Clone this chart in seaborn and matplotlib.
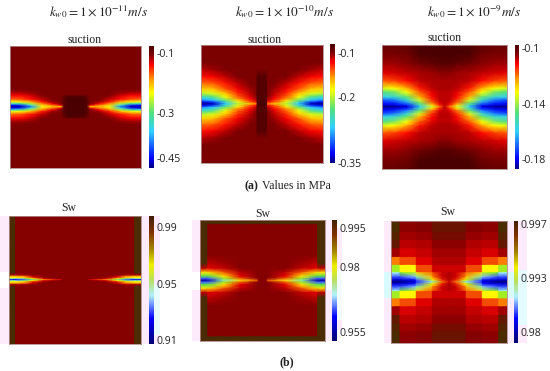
import matplotlib
matplotlib.use('Agg')
import matplotlib.pyplot as plt
import numpy as np
import seaborn as sns
from matplotlib.cm import ScalarMappable
from matplotlib.colors import LinearSegmentedColormap, Normalize
from matplotlib.patches import Rectangle

# Every table holds the left half of a panel, from the crack line outwards.
# Columns are x fractions of the panel width, rows are distance from the crack
# as a fraction of the half height.

# suction, kw0 = 1e-11
s1_x = [0, .08, .16, .24, .32, .39, .41, .44, .5]
s1_y = [0, .02, .05, .08, .12, .17, .2, .24, .29, 1]
s1_vals = [
    [-.472, -.472, -.393, -.235, -.196, -.215, -.077, -.077, -.077],
    [-.452, -.433, -.344, -.215, -.186, -.136, -.087, -.077, -.077],
    [-.344, -.314, -.265, -.186, -.136, -.107, -.087, -.077, -.077],
    [-.235, -.225, -.196, -.146, -.116, -.107, -.087, -.077, -.077],
    [-.176, -.166, -.146, -.126, -.107, -.107, -.087, -.077, -.077],
    [-.146, -.146, -.131, -.111, -.107, -.107, -.097, -.082, -.082],
    [-.131, -.131, -.121, -.107, -.107, -.107, -.107, -.107, -.107],
    [-.116, -.116, -.111, -.107, -.107, -.107, -.107, -.107, -.107],
    [-.107, -.107, -.107, -.107, -.107, -.107, -.107, -.107, -.107],
    [-.107, -.107, -.107, -.107, -.107, -.107, -.107, -.107, -.107],
]

# suction, kw0 = 1e-10
s2_x = [0, .1, .2, .3, .4, .455, .46, .5]
s2_y = [0, .03, .06, .09, .13, .18, .25, .35, .46, .58, .7, 1]
s2_vals = [
    [-.35, -.34, -.27, -.2, -.165, -.15, -.08, -.08],
    [-.33, -.31, -.25, -.19, -.14, -.12, -.08, -.08],
    [-.29, -.27, -.22, -.17, -.13, -.11, -.085, -.085],
    [-.27, -.25, -.2, -.15, -.12, -.105, -.085, -.085],
    [-.24, -.22, -.18, -.14, -.115, -.1, -.085, -.085],
    [-.2, -.19, -.165, -.13, -.11, -.1, -.085, -.085],
    [-.17, -.165, -.14, -.12, -.105, -.1, -.085, -.085],
    [-.145, -.14, -.125, -.11, -.1, -.1, -.085, -.085],
    [-.125, -.12, -.11, -.1, -.1, -.1, -.085, -.085],
    [-.11, -.105, -.1, -.1, -.1, -.1, -.1, -.1],
    [-.1, -.1, -.1, -.1, -.1, -.1, -.1, -.1],
    [-.1, -.1, -.1, -.1, -.1, -.1, -.1, -.1],
]

# suction, kw0 = 1e-9
s3_x = [0, .1, .2, .3, .4, .46, .5]
s3_y = [0, .02, .06, .11, .16, .24, .3, .42, .55, .7, .85, 1]
s3_vals = [
    [-.187, -.186, -.182, -.16, -.135, -.12, -.108],
    [-.183, -.182, -.178, -.155, -.13, -.115, -.108],
    [-.178, -.176, -.168, -.145, -.12, -.11, -.108],
    [-.172, -.168, -.155, -.135, -.115, -.108, -.108],
    [-.158, -.155, -.145, -.125, -.112, -.108, -.108],
    [-.147, -.143, -.132, -.118, -.11, -.108, -.108],
    [-.135, -.132, -.124, -.113, -.108, -.107, -.107],
    [-.118, -.116, -.112, -.108, -.107, -.107, -.107],
    [-.11, -.109, -.108, -.107, -.106, -.105, -.105],
    [-.106, -.106, -.105, -.103, -.101, -.1, -.1],
    [-.104, -.104, -.103, -.099, -.098, -.098, -.098],
    [-.102, -.102, -.101, -.098, -.098, -.098, -.098],
]

# Sw, kw0 = 1e-11
w1_x = [0, .047, .05, .12, .18, .26, .33, .395, .41, .5]
w1_y = [0, .015, .03, .05, .075, .11, 1]
w1_vals = [
    [.915, .915, .915, .925, .945, .969, .975, .98, .989, .989],
    [.94, .94, .93, .945, .96, .98, .985, .989, .989, .989],
    [.96, .96, .96, .965, .975, .985, .989, .989, .989, .989],
    [.965, .965, .965, .97, .98, .989, .989, .989, .989, .989],
    [.985, .985, .985, .985, .989, .989, .989, .989, .989, .989],
    [.998, .998, .989, .989, .989, .989, .989, .989, .989, .989],
    [.998, .998, .989, .989, .989, .989, .989, .989, .989, .989],
]

# Sw, kw0 = 1e-10
w2_x = [0, .058, .062, .19, .32, .46, .47, .5]
w2_y = [0, .03, .07, .13, .2, .28, .42, .92, .935, 1]
w2_vals = [
    [.9525, .9525, .953, .968, .98, .985, .9934, .9934],
    [.96, .96, .96, .975, .985, .993, .9934, .9934],
    [.972, .972, .972, .98, .988, .9934, .9934, .9934],
    [.98, .98, .98, .985, .99, .9934, .9934, .9934],
    [.99, .99, .988, .99, .9934, .9934, .9934, .9934],
    [.998, .998, .99, .992, .9934, .9934, .9934, .9934],
    [.998, .998, .9934, .9934, .9934, .9934, .9934, .9934],
    [.998, .998, .9934, .9934, .9934, .9934, .9934, .9934],
    [.998, .998, .998, .998, .998, .998, .998, .998],
    [.998, .998, .998, .998, .998, .998, .998, .998],
]

# Sw, kw0 = 1e-9, paired rows and columns keep the blocky cells of the original
w3_x = [0, .07, .08, .21, .22, .35, .36, .44, .5]
w3_y = [0, .03, .08, .15, .16, .27, .28, .4, .41, .54, .55, .68, .69, .81, .82, 1]
w3_vals = [
    [.9882, .9882, .9882, .9888, .9895, .9908, .9915, .9945, .9955],
    [.9888, .9888, .9888, .9892, .9898, .993, .9935, .995, .9958],
    [.9897, .9897, .9897, .9905, .9915, .994, .9945, .9955, .9958],
    [.991, .991, .9925, .993, .9938, .9946, .9948, .9955, .9958],
    [.9928, .9928, .9935, .9935, .9948, .9948, .9955, .9955, .9955],
    [.9928, .9928, .9935, .9935, .9948, .9948, .9955, .9955, .9955],
    [.9945, .9945, .9948, .9948, .9953, .9953, .9958, .9958, .9958],
    [.9945, .9945, .9948, .9948, .9953, .9953, .9958, .9958, .9958],
    [.996, .996, .9954, .9954, .9956, .9956, .996, .996, .996],
    [.996, .996, .9954, .9954, .9956, .9956, .996, .996, .996],
    [.9968, .9968, .9957, .9957, .9958, .9958, .9962, .9962, .9962],
    [.9968, .9968, .9957, .9957, .9958, .9958, .9962, .9962, .9962],
    [.997, .997, .996, .996, .9961, .9961, .9965, .9965, .9965],
    [.997, .997, .996, .996, .9961, .9961, .9965, .9965, .9965],
    [.9972, .9972, .9962, .9962, .9963, .9963, .9967, .9967, .9967],
    [.9972, .9972, .9962, .9962, .9963, .9963, .9967, .9967, .9967],
]

suction_ticks = [[-.1, -.3, -.45], [-.1, -.2, -.35], [-.1, -.14, -.18]]
suction_labels = [['-0.1', '-0.3', '-0.45'], ['-0.1', '-0.2', '-0.35'], ['-0.1', '-0.14', '-0.18']]
sw_ticks = [[.99, .95, .91], [.995, .98, .955], [.997, .993, .989]]
sw_labels = [['0.99', '0.95', '0.91'], ['0.995', '0.98', '0.955'], ['0.997', '0.993', '0.98']]
suction_ranges = [(-.482, -.077), (-.35, -.08), (-.187, -.098)]
sw_ranges = [(.907, .998), (.9515, .998), (.9882, .9972)]
kw_titles = [r'$k_{w0}=1\times10^{-11}m/s$', r'$k_{w0}=1\times10^{-10}m/s$', r'$k_{w0}=1\times10^{-9}m/s$']

sns.set_theme(style='white')
plt.rcParams['font.family'] = ['Open Sans', 'DejaVu Sans']
plt.rcParams['mathtext.fontset'] = 'stix'

W, H = 550, 371
suction_cmap = LinearSegmentedColormap.from_list('suction', [
    (0, '#00007f'), (.08, '#0000ff'), (.3, '#30d0ff'), (.45, '#50e080'), (.62, '#ffff00'),
    (.72, '#ffa000'), (.85, '#ff0000'), (.93, '#7a0000'), (1, '#4a0000')])
sw_cmap = LinearSegmentedColormap.from_list('sw', [
    (0, '#00007f'), (.1, '#0000ff'), (.3, '#a8f0ff'), (.45, '#50e040'), (.58, '#ffff00'),
    (.68, '#ffa000'), (.78, '#e80000'), (.9, '#850000'), (1, '#4a2c00')])
sw_bar_cmap = LinearSegmentedColormap.from_list('swbar', [
    (0, '#000070'), (.2, '#0000ff'), (.38, '#b0f0ff'), (.5, '#b8e060'), (.62, '#f0f000'),
    (.75, '#a08000'), (.88, '#803000'), (1, '#402000')])

fig = plt.figure(figsize=(W / 100, H / 100), dpi=100)


def px_rect(x0, y0, x1, y1):
    return [x0 / W, 1 - y1 / H, (x1 - x0) / W, (y1 - y0) / H]


def add_panel(vals, xs, ys, vrange, box, cbox, ticks, labels, cmap, bar_cmap):
    # mirror the half table around the crack line and the panel centre
    half = np.array(vals)
    full = np.hstack([half, half[:, -2::-1]])
    full = np.vstack([full[::-1], full[1:]])
    x_pos = np.array(list(xs) + [1 - v for v in xs[-2::-1]])
    y_pos = np.array([-v for v in ys[::-1]] + list(ys[1:]))
    x_idx = np.arange(len(x_pos))
    y_idx = np.arange(len(y_pos))

    ax = fig.add_axes(px_rect(*box))
    sns.heatmap(full, ax=ax, cmap=cmap, vmin=vrange[0], vmax=vrange[1], cbar=False,
                xticklabels=False, yticklabels=False, shading='gouraud')
    ax.set_xscale('function', functions=(lambda i: np.interp(i, x_idx, x_pos),
                                         lambda p: np.interp(p, x_pos, x_idx)))
    ax.set_yscale('function', functions=(lambda i: np.interp(i, y_idx, y_pos),
                                         lambda p: np.interp(p, y_pos, y_idx)))
    ax.set_xlim(0, len(x_pos) - 1)
    ax.set_ylim(len(y_pos) - 1, 0)
    ax.set_xticks([])
    ax.set_yticks([])
    ax.minorticks_off()
    for s in ax.spines.values():
        s.set_visible(True)
        s.set_color('#b08a8a')
        s.set_linewidth(.6)

    cax = fig.add_axes(px_rect(*cbox))
    cb = fig.colorbar(ScalarMappable(Normalize(*vrange), bar_cmap), cax=cax)
    cb.outline.set_visible(False)
    cb.set_ticks(ticks, labels=labels)
    cax.tick_params(length=0, pad=1.5, labelsize=7.6, colors='#222222')
    cax.minorticks_off()


# pale halos around the lower pictures, kept under the axes
for x0, y0, x1, y1, col in [(0, 216, 160, 344, '#fdeafb'), (192, 220, 332, 341, '#fdeafb'),
                            (337, 228, 342, 330, '#fdeafb'), (384, 221, 527, 343, '#fdeafb'),
                            (0, 272, 10, 288, '#ffffff'), (192, 272, 201, 290, '#ffffff'),
                            (325, 272, 332, 290, '#ffffff'), (154, 285, 160, 335, '#e8fbff'),
                            (337, 270, 342, 320, '#f4fbff'), (384, 272, 391, 298, '#d8fbff'),
                            (507, 272, 514, 298, '#d8fbff'), (518, 270, 527, 325, '#e4fbff')]:
    fig.add_artist(Rectangle((x0 / W, 1 - y1 / H), (x1 - x0) / W, (y1 - y0) / H,
                             transform=fig.transFigure, facecolor=col, edgecolor='none', zorder=-1))

suction_boxes = [(10, 46, 141, 168), (201, 45, 323, 163), (382, 45, 507, 169)]
suction_cboxes = [(149, 46, 154, 168), (330, 44, 335, 163), (515, 45, 519, 169)]
sw_boxes = [(9, 216, 141, 344), (200, 220, 325, 341), (391, 221, 507, 343)]
sw_cboxes = [(149, 216, 154, 344), (332, 220, 337, 341), (514, 221, 518, 343)]

suction_tables = [(s1_vals, s1_x, s1_y), (s2_vals, s2_x, s2_y), (s3_vals, s3_x, s3_y)]
sw_tables = [(w1_vals, w1_x, w1_y), (w2_vals, w2_x, w2_y), (w3_vals, w3_x, w3_y)]

for i in range(3):
    add_panel(*suction_tables[i], suction_ranges[i], suction_boxes[i], suction_cboxes[i],
              suction_ticks[i], suction_labels[i], suction_cmap, suction_cmap)
    add_panel(*sw_tables[i], sw_ranges[i], sw_boxes[i], sw_cboxes[i],
              sw_ticks[i], sw_labels[i], sw_cmap, sw_bar_cmap)


def label(x, y, s, size=8.5, **kw):
    fig.text(x / W, 1 - y / H, s, ha='center', va='center', fontsize=size,
             family=['Liberation Serif', 'DejaVu Serif'], color='#222222', **kw)


for x, s in zip([98, 284, 474], kw_titles):
    label(x, 12, s, size=9.5)
for x, y in [(85, 40), (265, 40), (445, 38)]:
    label(x, y, 'suction')
for x, y in [(69, 208), (263, 214), (448, 212)]:
    label(x, y, 'Sw')
label(251, 186, '(a)', weight='bold')
label(296, 186, 'Values in MPa')
label(287, 362, '(b)', weight='bold')

fig.savefig('out.png', dpi=100)
